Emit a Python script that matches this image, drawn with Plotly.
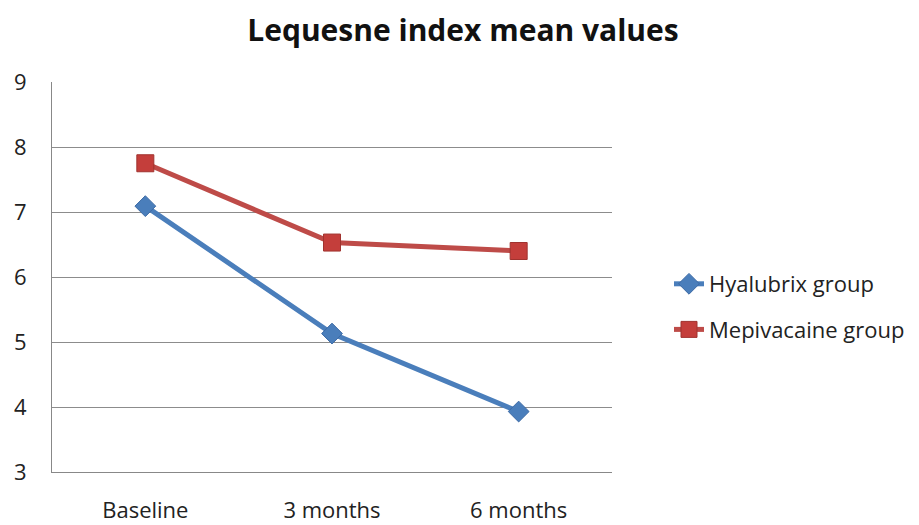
import plotly.graph_objects as go

categories = ["Baseline", "3 months", "6 months"]
hyalubrix = [7.09, 5.13, 3.93]
mepivacaine = [7.75, 6.53, 6.40]
y_ticks = [3, 4, 5, 6, 7, 8, 9]

FONT = "Open Sans"
OFF = 8  # page body margin offset

fig = go.Figure()
fig.add_trace(go.Scatter(
    x=categories, y=hyalubrix, name="Hyalubrix group", mode="lines+markers",
    legendgroup="h",
    line=dict(color="#4A7EBB", width=5),
    marker=dict(symbol="diamond", size=16, color="#4A7EBB",
                line=dict(color="#3C6AA5", width=1)),
))
fig.add_trace(go.Scatter(
    x=categories, y=mepivacaine, name="Mepivacaine group", mode="lines+markers",
    legendgroup="m",
    line=dict(color="#BE4B48", width=5),
    marker=dict(symbol="square", size=17, color="#C43E3B",
                line=dict(color="#A0332F", width=1)),
))

W, H = 919 - OFF, 525 - OFF
fig.update_layout(
    width=W, height=H,
    margin=dict(l=52 - OFF, r=307, t=82 - OFF, b=53, autoexpand=False),
    paper_bgcolor="white", plot_bgcolor="white",
    font=dict(family=FONT, size=22, color="#222222"),
    title=dict(text="<b>Lequesne index mean values</b>", x=(463 - OFF) / W, xanchor="center",
               y=1 - (30 - OFF) / H, yanchor="middle",
               font=dict(family=FONT, size=30, color="#111111")),
    showlegend=True,
    legend=dict(x=(669 - 52) / 560, xanchor="left", y=(472 - 307) / 390, yanchor="middle",
                font=dict(family=FONT, size=22, color="#222222"),
                tracegroupgap=14, bgcolor="rgba(0,0,0,0)"),
    xaxis=dict(type="category", range=[-0.5, 2.5], showgrid=False, automargin=False,
               showline=True, linecolor="#888888", linewidth=1,
               ticks="", tickfont=dict(size=22), ticklabelstandoff=19),
    yaxis=dict(range=[3, 9], tickvals=y_ticks, showgrid=True, gridcolor="#8c8c8c",
               gridwidth=1, showline=True, linecolor="#888888", linewidth=1, automargin=False,
               ticks="", zeroline=False, tickfont=dict(size=22), ticklabelstandoff=20),
)

fig.write_html("out.html")
